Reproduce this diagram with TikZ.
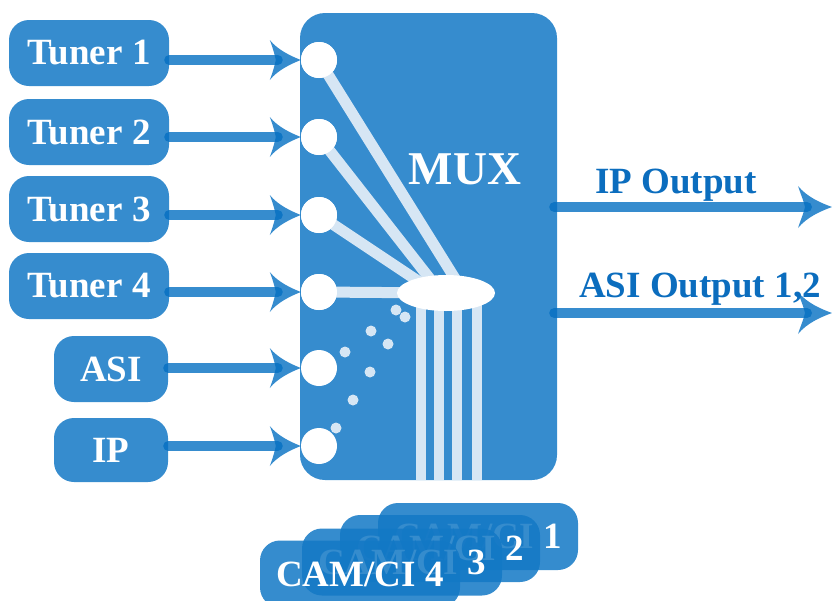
\documentclass[tikz,border=0pt]{standalone}
\usepackage{fontspec}
\setmainfont{Liberation Serif}
\usetikzlibrary{arrows.meta,shapes.geometric,calc}
\definecolor{boxblue}{RGB}{54,140,206}
\definecolor{camblue}{RGB}{18,120,197}
\definecolor{arrblue}{RGB}{4,111,194}
\definecolor{liteline}{RGB}{214,230,244}
\definecolor{lblblue}{RGB}{11,109,190}
\pgfdeclarearrow{
  name=Swept,
  setup code={
    \pgfarrowssettipend{0pt}
    \pgfarrowssetlineend{-23pt}
    \pgfarrowssetbackend{-31pt}
    \pgfarrowssetvisualbackend{-25pt}
    \pgfarrowshullpoint{0pt}{0pt}
    \pgfarrowsupperhullpoint{-31pt}{20pt}
  },
  drawing code={
    \pgfpathmoveto{\pgfqpoint{0pt}{0pt}}
    \pgfpathcurveto{\pgfqpoint{-10pt}{4pt}}{\pgfqpoint{-23pt}{10pt}}{\pgfqpoint{-31pt}{20pt}}
    \pgfpathcurveto{\pgfqpoint{-28pt}{12pt}}{\pgfqpoint{-26pt}{5pt}}{\pgfqpoint{-25pt}{0pt}}
    \pgfpathcurveto{\pgfqpoint{-26pt}{-5pt}}{\pgfqpoint{-28pt}{-12pt}}{\pgfqpoint{-31pt}{-20pt}}
    \pgfpathcurveto{\pgfqpoint{-23pt}{-10pt}}{\pgfqpoint{-10pt}{-4pt}}{\pgfqpoint{0pt}{0pt}}
    \pgfpathclose
    \pgfusepathqfill
  }
}
\pgfdeclarearrow{
  name=SweptOut,
  setup code={
    \pgfarrowssettipend{0pt}
    \pgfarrowssetlineend{-25pt}
    \pgfarrowssetbackend{-34pt}
    \pgfarrowssetvisualbackend{-27pt}
    \pgfarrowshullpoint{0pt}{0pt}
    \pgfarrowsupperhullpoint{-34pt}{21pt}
  },
  drawing code={
    \pgfpathmoveto{\pgfqpoint{0pt}{0pt}}
    \pgfpathcurveto{\pgfqpoint{-11pt}{4pt}}{\pgfqpoint{-25pt}{10pt}}{\pgfqpoint{-34pt}{21pt}}
    \pgfpathcurveto{\pgfqpoint{-31pt}{12pt}}{\pgfqpoint{-28pt}{5pt}}{\pgfqpoint{-27pt}{0pt}}
    \pgfpathcurveto{\pgfqpoint{-28pt}{-5pt}}{\pgfqpoint{-31pt}{-12pt}}{\pgfqpoint{-34pt}{-21pt}}
    \pgfpathcurveto{\pgfqpoint{-25pt}{-10pt}}{\pgfqpoint{-11pt}{-4pt}}{\pgfqpoint{0pt}{0pt}}
    \pgfpathclose
    \pgfusepathqfill
  }
}
\begin{document}
\begin{tikzpicture}[x=1pt,y=-1pt,
  srcbox/.style={fill=boxblue, rounded corners=20pt, minimum height=66pt, text=white,
    font=\bfseries\fontsize{37}{40}\selectfont, inner sep=0pt},
  port/.style={circle, fill=white, minimum size=36pt, inner sep=0pt},
  speck/.style={circle, fill=liteline, minimum size=11pt, inner sep=0pt},
  feed/.style={draw=arrblue, line width=10pt, opacity=0.8, line cap=round, -{Swept}},
  outfeed/.style={draw=arrblue, line width=10pt, opacity=0.8, line cap=round, -{SweptOut}},
  lite/.style={draw=liteline, line width=11pt},
  lbl/.style={text=lblblue, font=\bfseries\fontsize{37}{40}\selectfont, inner sep=0pt, anchor=base},
  cam/.style={fill=camblue, fill opacity=0.85, text opacity=1, rounded corners=20pt,
    minimum width=200pt, minimum height=67pt, text=white,
    font=\bfseries\fontsize{37}{40}\selectfont, inner sep=0pt}]
\useasboundingbox (0,0) rectangle (832,600);

% MUX block
\node[fill=boxblue, rounded corners=25pt, minimum width=257pt, minimum height=467pt, inner sep=0pt] (mux) at (428.5,246.5) {};

% ports
\node[port] (c1) at (319,60) {};
\node[port] (c2) at (319,137) {};
\node[port] (c3) at (319,215) {};
\node[port] (c4) at (319,292) {};
\node[port] (c5) at (319,368) {};
\node[port] (c6) at (319,446) {};

% hub
\coordinate (hubc) at (446,293);
\draw[lite] (c1.center) -- ($(hubc)+(18,0)$);
\draw[lite] (c2.center) -- ($(hubc)+(-5,0)$);
\draw[lite] (c3.center) -- ($(hubc)+(-10,0)$);
\draw[lite] (c4.center) -- (hubc);
\draw[lite, line width=10.5pt] (421,293) -- (421,480);
\draw[lite, line width=10.5pt] (439,293) -- (439,480);
\draw[lite, line width=10.5pt] (457,293) -- (457,480);
\draw[lite, line width=10.5pt] (477,293) -- (477,480);
\node[ellipse, fill=white, minimum width=98pt, minimum height=36pt, inner sep=0pt] (hub) at (hubc) {};
\foreach \c in {c1,c2,c3,c4} { \node[port] at (\c) {}; }

% small dots
\node[speck] (d1) at (396,310) {};
\node[speck] (d2) at (405,317) {};
\node[speck] (d3) at (371,331) {};
\node[speck] (d4) at (388,344) {};
\node[speck] (d5) at (345,352) {};
\node[speck] (d6) at (370,372) {};
\node[speck] (d7) at (353,400) {};
\node[speck] (d8) at (336,428) {};

\node[text=white, font=\bfseries\fontsize{47}{50}\selectfont, inner sep=0pt, anchor=base] (muxlbl) at (465,184) {MUX};

% sources
\node[srcbox, minimum width=160pt] (t1) at (89,53) {Tuner 1};
\node[srcbox, minimum width=160pt] (t2) at (89,132) {Tuner 2};
\node[srcbox, minimum width=160pt] (t3) at (89,209) {Tuner 3};
\node[srcbox, minimum width=160pt] (t4) at (89,286) {Tuner 4};
\node[srcbox, minimum width=114pt] (asi) at (111,369) {ASI};
\node[srcbox, minimum width=114pt, minimum height=64pt] (ip) at (111,450) {IP};

\draw[feed] (t1.east |- c1) -- (c1.west);
\draw[feed] (t2.east |- c2) -- (c2.west);
\draw[feed] (t3.east |- c3) -- (c3.west);
\draw[feed] (t4.east |- c4) -- (c4.west);
\draw[feed] (asi.east |- c5) -- (c5.west);
\draw[feed] (ip.east |- c6) -- (c6.west);

% outputs
\coordinate (o1) at (832,207);
\coordinate (o2) at (832,313);
\draw[outfeed] ($(mux.east |- o1)+(-3,0)$) -- (o1);
\draw[outfeed] ($(mux.east |- o2)+(-3,0)$) -- (o2);
\node[lbl] (lip) at (676,193) {IP Output};
\node[lbl] (lasi) at (700,297) {ASI Output 1,2};

% CAM/CI stack
\node[cam] (cam1) at (478,536.5) {CAM/CI 1};
\node[cam] (cam2) at (440,548.5) {CAM/CI 2};
\node[cam] (cam3) at (402,562) {CAM/CI 3};
\node[cam] (cam4) at (360,574) {CAM/CI 4};
\end{tikzpicture}
\end{document}
